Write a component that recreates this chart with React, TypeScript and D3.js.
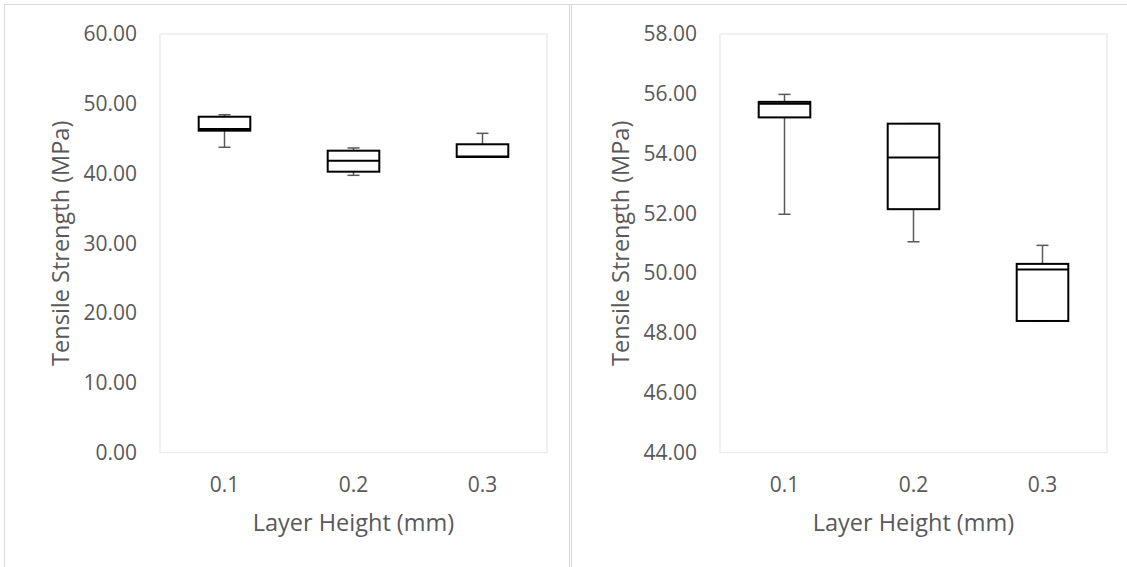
import React from "react";
import * as d3 from "d3";

const categories = ["0.1", "0.2", "0.3"];

// Left chart (MPa)
const leftMin = [43.76, 39.74, 42.37];
const leftQ1 = [46.14, 40.26, 42.37];
const leftMedian = [46.38, 41.83, 42.45];
const leftQ3 = [48.14, 43.27, 44.19];
const leftMax = [48.43, 43.66, 45.76];
const leftTicks = [0, 10, 20, 30, 40, 50, 60];

// Right chart (MPa)
const rightMin = [51.97, 51.05, 48.4];
const rightQ1 = [55.21, 52.14, 48.4];
const rightMedian = [55.67, 53.87, 50.12];
const rightQ3 = [55.73, 55.0, 50.31];
const rightMax = [55.98, 55.0, 50.93];
const rightTicks = [44, 46, 48, 50, 52, 54, 56, 58];

const FONT = "'Open Sans', sans-serif";
const TEXT = "#595959";

type PanelProps = {
  x0: number;
  min: number[];
  q1: number[];
  med: number[];
  q3: number[];
  max: number[];
  ticks: number[];
};

function Panel({ x0, min, q1, med, q3, max, ticks }: PanelProps) {
  const left = x0 + 156;
  const right = x0 + 543;
  const top = 34;
  const bottom = 452.5;
  const x = d3.scaleBand<string>().domain(categories).range([left, right]).padding(0);
  const y = d3
    .scaleLinear()
    .domain([d3.min(ticks) as number, d3.max(ticks) as number])
    .range([bottom, top]);
  const bw = x.bandwidth() * 0.4;
  const cap = 12;
  return (
    <g>
      <rect x={left} y={top} width={right - left} height={bottom - top} fill="none" stroke="#ededed" strokeWidth={1.5} />
      {ticks.map((t) => (
        <text key={t} x={left - 23} y={y(t)} dy="0.35em" textAnchor="end" fontFamily={FONT} fontSize={21} fill={TEXT}>
          {t.toFixed(2)}
        </text>
      ))}
      {categories.map((c) => (
        <text key={c} x={(x(c) as number) + x.bandwidth() / 2} y={485} dy="0.35em" textAnchor="middle" fontFamily={FONT} fontSize={21} fill={TEXT}>
          {c}
        </text>
      ))}
      <text x={(left + right) / 2} y={523} dy="0.35em" textAnchor="middle" fontFamily={FONT} fontSize={23.5} fill={TEXT}>
        Layer Height (mm)
      </text>
      <text
        transform={`translate(${x0 + 57},${(top + bottom) / 2}) rotate(-90)`}
        dy="0.35em"
        textAnchor="middle"
        fontFamily={FONT}
        fontSize={23.5}
        fill={TEXT}
      >
        Tensile Strength (MPa)
      </text>
      {categories.map((c, i) => {
        const cx = (x(c) as number) + x.bandwidth() / 2;
        return (
          <g key={c}>
            <line x1={cx} x2={cx} y1={y(max[i])} y2={y(min[i])} stroke="#595959" strokeWidth={1.5} />
            <line x1={cx - cap / 2} x2={cx + cap / 2} y1={y(max[i])} y2={y(max[i])} stroke="#595959" strokeWidth={1.5} />
            <line x1={cx - cap / 2} x2={cx + cap / 2} y1={y(min[i])} y2={y(min[i])} stroke="#595959" strokeWidth={1.5} />
            <rect x={cx - bw / 2} y={y(q3[i])} width={bw} height={y(q1[i]) - y(q3[i])} fill="#fff" stroke="#000" strokeWidth={2} />
            <line x1={cx - bw / 2} x2={cx + bw / 2} y1={y(med[i])} y2={y(med[i])} stroke="#000" strokeWidth={2} />
          </g>
        );
      })}
    </g>
  );
}

export default function App() {
  return (
    <div style={{ position: "absolute", left: 0, top: 0 }}>
      <svg width={1127} height={567} style={{ display: "block", background: "#fff" }}>
        <line x1={4} x2={1127} y1={4.5} y2={4.5} stroke="#d9d9d9" strokeWidth={1} />
        <line x1={4.5} x2={4.5} y1={4} y2={567} stroke="#d9d9d9" strokeWidth={1} />
        <line x1={569.5} x2={569.5} y1={4} y2={567} stroke="#d9d9d9" strokeWidth={1} />
        <line x1={571.5} x2={571.5} y1={4} y2={567} stroke="#d9d9d9" strokeWidth={1} />
        <Panel x0={4} min={leftMin} q1={leftQ1} med={leftMedian} q3={leftQ3} max={leftMax} ticks={leftTicks} />
        <Panel x0={564} min={rightMin} q1={rightQ1} med={rightMedian} q3={rightQ3} max={rightMax} ticks={rightTicks} />
      </svg>
    </div>
  );
}
